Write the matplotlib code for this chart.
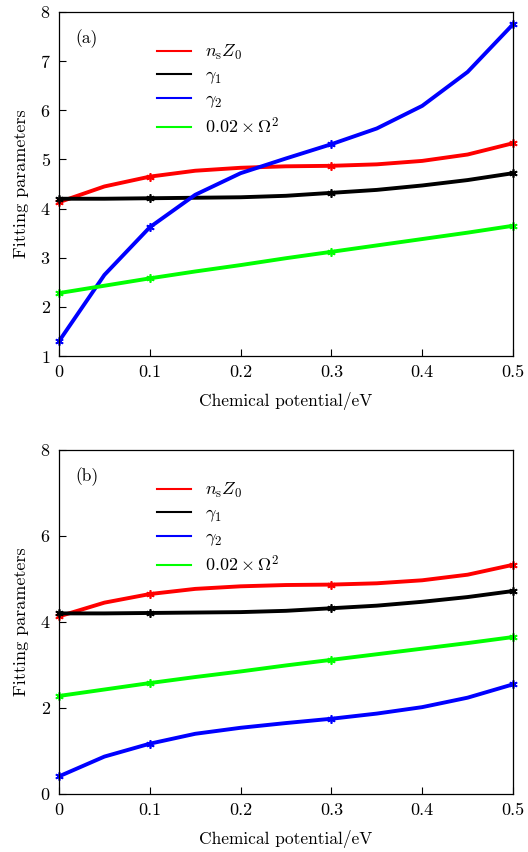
import numpy as np
import matplotlib
matplotlib.use("Agg")
import matplotlib.pyplot as plt

plt.rcParams['font.family'] = 'serif'
plt.rcParams['font.serif'] = ['cmr10']
plt.rcParams['mathtext.fontset'] = 'cm'
plt.rcParams['axes.formatter.use_mathtext'] = True
plt.rcParams['axes.unicode_minus'] = False

# ── Data ─────────────────────────────────────────────────
mu = [0, 0.05, 0.1, 0.15, 0.2, 0.25, 0.3, 0.35, 0.4, 0.45, 0.5]

ns_z0 = [4.13, 4.45, 4.65, 4.77, 4.83, 4.86, 4.87, 4.90, 4.97, 5.10, 5.33]
gamma1 = [4.20, 4.20, 4.21, 4.22, 4.23, 4.26, 4.32, 4.38, 4.47, 4.58, 4.72]
gamma2_a = [1.30, 2.65, 3.62, 4.28, 4.72, 5.02, 5.31, 5.63, 6.09, 6.78, 7.75]
gamma2_b = [0.41, 0.87, 1.17, 1.40, 1.54, 1.65, 1.75, 1.87, 2.02, 2.24, 2.55]
omega_sq = [2.28, 2.43, 2.58, 2.72, 2.85, 2.99, 3.12, 3.25, 3.38, 3.51, 3.65]

labels = [r'$n_{\rm s}Z_0$', r'$\gamma_1$', r'$\gamma_2$',
          r'$0.02\times\mathit{\Omega}^2$']
colors = ['#ff0000', '#000000', '#0000ff', '#00ff00']
mark_idx = [0, 2, 6, 10]

panels = [
    ('(a)', [ns_z0, gamma1, gamma2_a, omega_sq], (1, 8), np.arange(1, 9, 1)),
    ('(b)', [ns_z0, gamma1, gamma2_b, omega_sq], (0, 8), np.arange(0, 9, 2)),
]

W, H = 528, 852
fig = plt.figure(figsize=(W / 100, H / 100), dpi=100)

# axes boxes in pixels: left, top, right, bottom
boxes = [(59, 12, 513, 356), (59, 450, 513, 794)]

for (tag, series, ylim, yticks), (l, t, r, b) in zip(panels, boxes):
    ax = fig.add_axes([l / W, 1 - b / H, (r - l) / W, (b - t) / H])

    for y, c, lab in zip(series, colors, labels):
        ax.plot(mu, y, color=c, linewidth=2.8, label=lab)
        ax.plot([mu[i] for i in mark_idx], [y[i] for i in mark_idx],
                linestyle='none', marker=(6, 2, 0), markersize=6,
                markeredgewidth=1.2, color=c, clip_on=False)

    ax.set_xlim(0, 0.5)
    ax.set_ylim(*ylim)
    ax.set_xticks([0, 0.1, 0.2, 0.3, 0.4, 0.5])
    ax.set_xticklabels(['0', '0.1', '0.2', '0.3', '0.4', '0.5'])
    ax.set_yticks(yticks)
    ax.tick_params(direction='in', length=5, width=0.8, labelsize=13,
                   top=False, right=False, pad=6)
    for sp in ax.spines.values():
        sp.set_linewidth(0.9)

    ax.set_xlabel('Chemical potential/eV', fontsize=12.5, labelpad=9)
    ax.set_ylabel('Fitting parameters', fontsize=13, labelpad=8)

    ax.text(0.035, 0.95, tag, transform=ax.transAxes, fontsize=12.5,
            ha='left', va='top')

    leg = ax.legend(loc='upper left', bbox_to_anchor=(0.2, 0.93), frameon=False,
                    fontsize=13, handlelength=1.9, handletextpad=0.75,
                    labelspacing=0.3, borderaxespad=0)
    for h in leg.legend_handles:
        h.set_linewidth(1.5)

plt.savefig('out.png', dpi=100)
